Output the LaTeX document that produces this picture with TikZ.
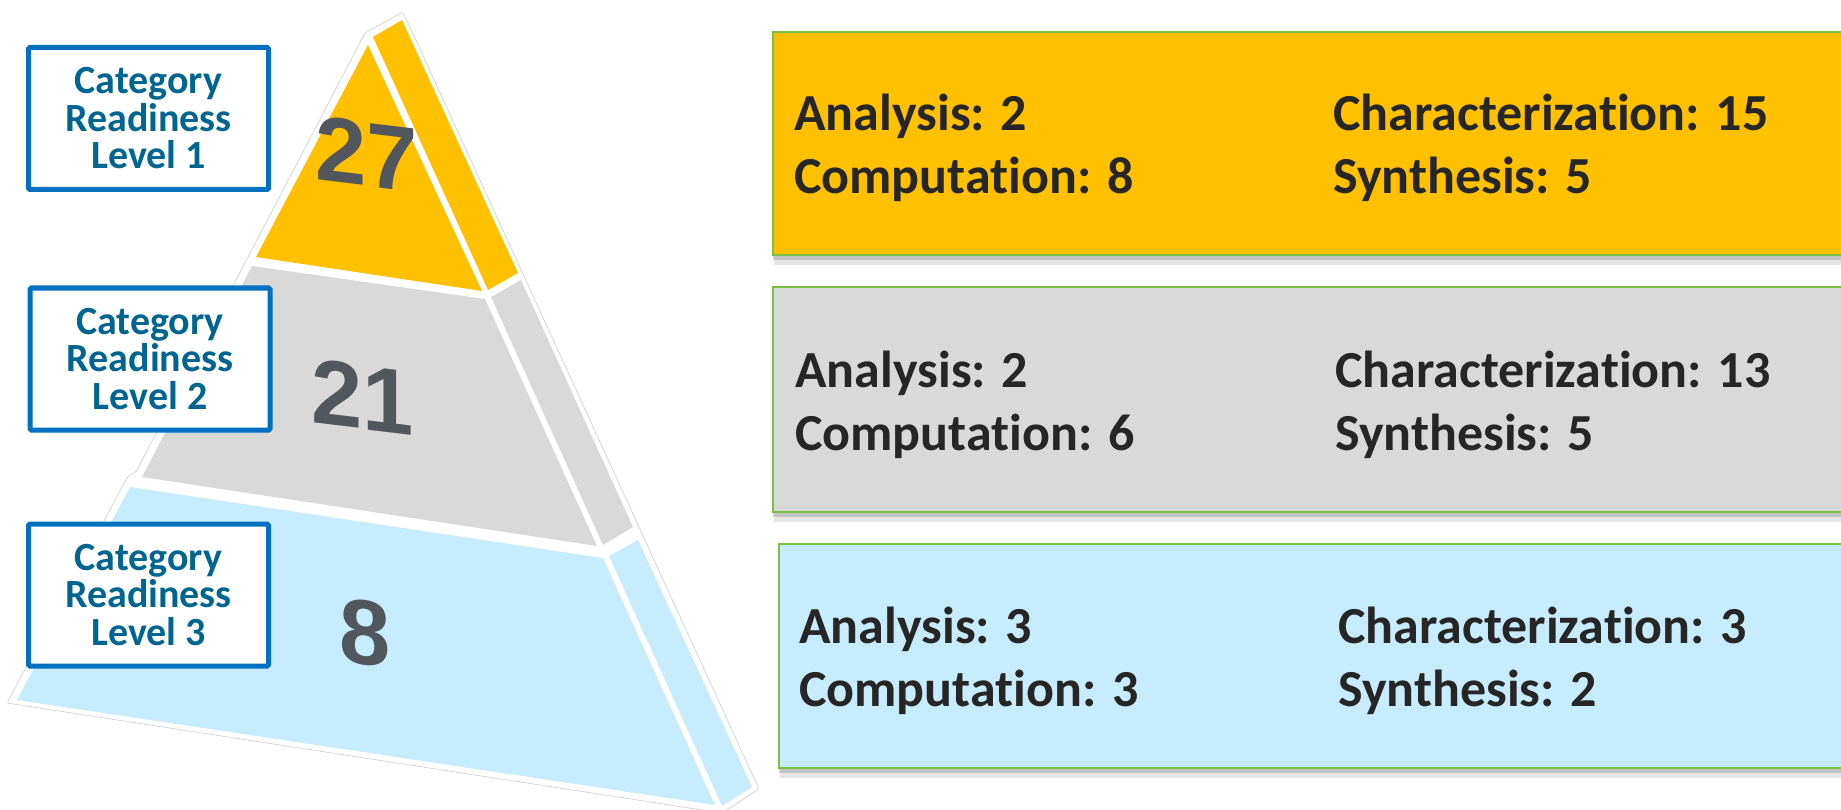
\documentclass[tikz,border=0pt]{standalone}
\usepackage{fontspec}
\setmainfont{Carlito}[Ligatures=NoCommon]
\newfontfamily\numfont{Liberation Sans}
\definecolor{crlyellow}{HTML}{FFC000}
\definecolor{crlgray}{HTML}{D9D9D9}
\definecolor{crlblue}{HTML}{C7ECFD}
\definecolor{crlframe}{HTML}{0070C0}
\definecolor{crltext}{HTML}{00668F}
\definecolor{crlgreen}{HTML}{7AC143}
\definecolor{crldark}{HTML}{262626}
\definecolor{crlnum}{HTML}{52575E}
\tikzset{
  lvlbox/.style={draw=crlframe, line width=5pt, fill=white, rounded corners=1.5pt,
    minimum width=240pt, minimum height=142pt, inner sep=0pt, align=center,
    text=crltext, font=\bfseries\fontsize{40}{37.5}\selectfont},
  cnt/.style={anchor=base west, inner sep=0pt, text=crldark,
    font=\bfseries\fontsize{52}{60}\selectfont},
  bignum/.style={inner sep=0pt, text=crlnum, yslant=-0.12,
    font=\numfont\bfseries\fontsize{92}{92}\selectfont},
}
\begin{document}
\begin{tikzpicture}[x=1pt,y=-1pt]
    \useasboundingbox (0,0) rectangle (1841,810);
    % pyramid outline
    \draw[gray!40, line width=0.6pt, rounded corners=2pt] (403,12) -- (365,33) -- (136,472) -- (128,476) -- (7,703) -- (722,813) -- (759,789) -- cycle;
    % level 1
    \fill[crlyellow] (368,45) -- (256,257) -- (482,291) -- cycle;
    \fill[crlyellow] (373,37) -- (402,20) -- (518,273) -- (488,290) -- cycle;
    % level 2
    \fill[crlgray] (252,266) -- (485,299) -- (597,546) -- (142,477) -- cycle;
    \fill[crlgray] (491,297) -- (521,280) -- (633,527) -- (603,545) -- cycle;
    % level 3
    \fill[crlblue] (130,487) -- (603,558) -- (715,805) -- (17,700) -- cycle;
    \fill[crlblue] (609,556) -- (638,540) -- (752,787) -- (722,806) -- cycle;
    \node[bignum] (n1) at (367,154) {27};
    \node[bignum] (n2) at (363,397) {21};
    \node[bignum] (n3) at (365,633) {8};
    % level labels
    \node[lvlbox] (lvl1) at (148.5,118.5) {Category\\Readiness\\Level 1};
    \node[lvlbox] (lvl2) at (150,359) {Category\\Readiness\\Level 2};
    \node[lvlbox] (lvl3) at (148.5,595) {Category\\Readiness\\Level 3};
    % count boxes
    \foreach \ya/\yb/\cl/\xl in {32/255/crlyellow/773, 287/512/crlgray/773, 544/768/crlblue/779} {
        \fill[black, opacity=0.10] (\xl+1,\ya+4) rectangle (1850,\yb+10);
        \fill[black, opacity=0.15] (\xl,\ya+2) rectangle (1850,\yb+5);
        \draw[crlgreen, line width=1.5pt, fill=\cl] (\xl,\ya) rectangle (1850,\yb);
    }
    \node[cnt] (ana1) at (794,131) {Analysis: 2};
    \node[cnt] (com1) at (794,194) {Computation: 8};
    \node[cnt] (cha1) at (1333,131) {Characterization: 15};
    \node[cnt] (syn1) at (1333,194) {Synthesis: 5};
    \node[cnt] (ana2) at (795,387) {Analysis: 2};
    \node[cnt] (com2) at (795,450) {Computation: 6};
    \node[cnt] (cha2) at (1335,387) {Characterization: 13};
    \node[cnt] (syn2) at (1335,450) {Synthesis: 5};
    \node[cnt] (ana3) at (799,643) {Analysis: 3};
    \node[cnt] (com3) at (799,706) {Computation: 3};
    \node[cnt] (cha3) at (1338,643) {Characterization: 3};
    \node[cnt] (syn3) at (1338,706) {Synthesis: 2};
\end{tikzpicture}
\end{document}
